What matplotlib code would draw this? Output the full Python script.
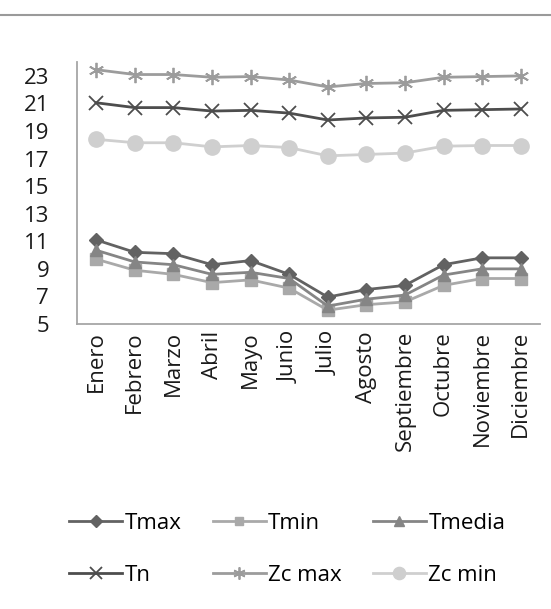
import matplotlib
matplotlib.use("Agg")
import matplotlib.pyplot as plt
from matplotlib.lines import Line2D

plt.rcParams['font.family'] = ['Open Sans', 'DejaVu Sans']

months = ["Enero", "Febrero", "Marzo", "Abril", "Mayo", "Junio", "Julio",
          "Agosto", "Septiembre", "Octubre", "Noviembre", "Diciembre"]

tmax = [11.1, 10.2, 10.1, 9.3, 9.6, 8.6, 6.95, 7.5, 7.8, 9.3, 9.8, 9.8]
tmin = [9.7, 8.9, 8.6, 8.0, 8.2, 7.6, 6.0, 6.4, 6.6, 7.8, 8.3, 8.3]
tmedia = [10.35, 9.5, 9.3, 8.6, 8.75, 8.3, 6.3, 6.8, 7.1, 8.55, 9.0, 9.0]
tn = [21.05, 20.7, 20.7, 20.45, 20.5, 20.3, 19.8, 19.95, 20.0, 20.5, 20.55, 20.6]
zcmax = [23.45, 23.1, 23.1, 22.9, 22.95, 22.7, 22.2, 22.45, 22.5, 22.9, 22.95, 23.0]
zcmin = [18.4, 18.15, 18.15, 17.85, 17.95, 17.8, 17.2, 17.3, 17.4, 17.9, 17.95, 17.95]

yticks = [5, 7, 9, 11, 13, 15, 17, 19, 21, 23]

FS = 16

fig = plt.figure(figsize=(5.51, 6.09), dpi=100)
ax = fig.add_axes([0.1397, 0.468, 0.8403, 0.430])

x = list(range(len(months)))
lw = 2.0
h_tmax, = ax.plot(x, tmax, color='#626262', lw=lw, marker='D', markersize=7.5, label='Tmax')
h_tmin, = ax.plot(x, tmin, color='#a9a9a9', lw=lw, marker='s', markersize=8, label='Tmin')
h_tmed, = ax.plot(x, tmedia, color='#858585', lw=lw, marker='^', markersize=9, label='Tmedia')
h_tn, = ax.plot(x, tn, color='#4d4d4d', lw=lw, marker='x', markersize=10, markeredgewidth=1.3, label='Tn')
h_zcmax, = ax.plot(x, zcmax, color='#9c9c9c', lw=lw, marker=(6, 2, 0), markersize=11, markeredgewidth=1.3, label='Zc max')
h_zcmin, = ax.plot(x, zcmin, color='#cfcfcf', lw=lw, marker='o', markersize=11, label='Zc min')

ax.set_xlim(-0.5, len(months) - 0.5)
ax.set_ylim(5, 24)
ax.set_yticks(yticks)
ax.set_yticklabels([str(v) for v in yticks], fontsize=FS, color='#1a1a1a')
ax.set_xticks(x)
ax.set_xticklabels(months, rotation=90, fontsize=FS, va='top', ha='center', color='#1a1a1a')
ax.tick_params(axis='both', length=0)
ax.tick_params(axis='x', pad=5)
ax.tick_params(axis='y', pad=20)
for s in ['top', 'right']:
    ax.spines[s].set_visible(False)
for s in ['left', 'bottom']:
    ax.spines[s].set_color('#a6a6a6')
    ax.spines[s].set_linewidth(1.3)

handles = [h_tmax, h_tn, h_tmin, h_zcmax, h_tmed, h_zcmin]
leg = fig.legend(handles=handles, labels=[h.get_label() for h in handles], ncol=3,
                 loc='center left', bbox_to_anchor=(0.105, 0.098), frameon=False, fontsize=FS,
                 handlelength=2.4, handletextpad=0.1, columnspacing=1.4, labelspacing=1.38,
                 markerscale=0.8, borderpad=0)

fig.add_artist(Line2D([0, 1], [1 - 15 / 609, 1 - 15 / 609], transform=fig.transFigure,
                      color='#9a9a9a', lw=1.5))

fig.savefig('out.png', dpi=100)
